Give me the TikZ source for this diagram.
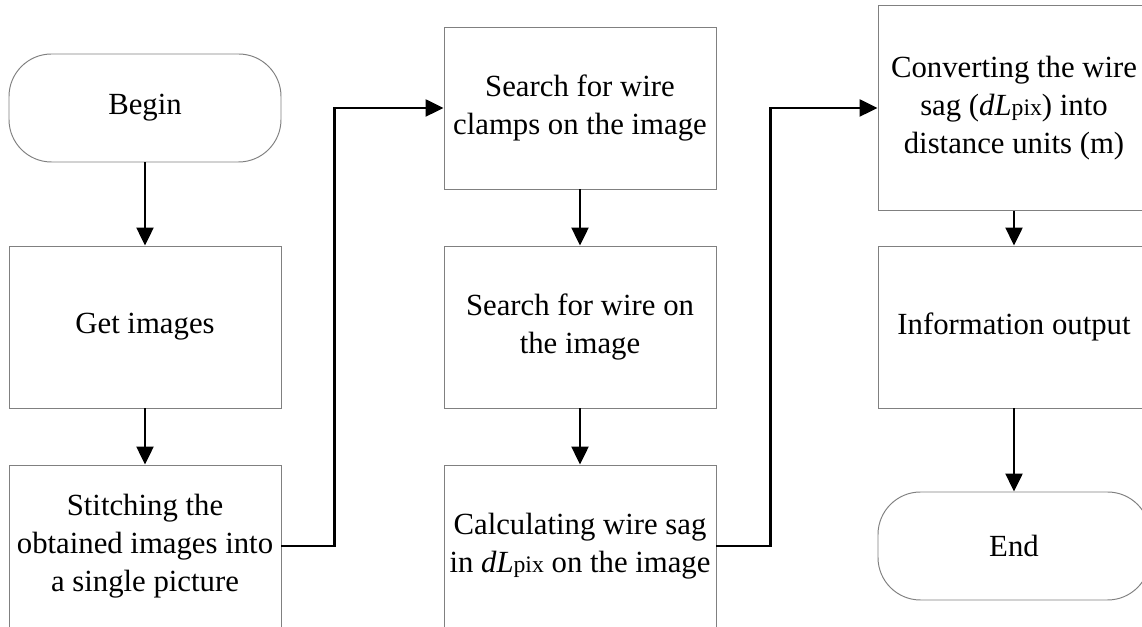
\documentclass[tikz,border=0pt]{standalone}
\usepackage{fontspec}
\setmainfont{Liberation Serif}
\usetikzlibrary{arrows.meta}
\begin{document}
\begin{tikzpicture}[
    block/.style={draw=black!50, line width=0.55pt, minimum width=5.44cm, minimum height=3.24cm,
      inner sep=0pt, align=center, font=\fontsize{17.5}{21.5}\selectfont},
    term/.style={block, rounded corners=0.85cm, minimum height=2.16cm},
    flow/.style={line width=1.4pt, -{Triangle[length=0.36cm, width=0.34cm]}}]
    \useasboundingbox (0, 0) rectangle (22.84, 12.54);
    \clip (0, 0) rectangle (22.84, 12.54);
    \node[term] (begin) at (2.9, 10.38) {Begin};
    \node[block] (getimg) at (2.9, 6) {Get images};
    \node[block] (stitch) at (2.9, 1.62) {Stitching the\\obtained images into\\a single picture};
    \node[block] (clamps) at (11.6, 10.38) {Search for wire\\clamps on the image};
    \node[block] (wire) at (11.6, 6) {Search for wire on\\the image};
    \node[block] (calc) at (11.6, 1.62)
      {Calculating wire sag\\in \textit{dL}{\fontsize{13.5}{15}\selectfont pix} on the image};
    \node[block, minimum height=4.1cm] (convert) at (20.28, 10.38)
      {Converting the wire\\sag (\textit{dL}{\fontsize{13.5}{15}\selectfont pix}) into\\distance units (m)};
    \node[block] (output) at (20.28, 6) {Information output};
    \node[term] (finish) at (20.28, 1.62) {End};
    \draw[flow] (begin) -- (getimg);
    \draw[flow] (getimg) -- (stitch);
    \draw[flow] (stitch.east) -- ++(1.06, 0) |- (clamps.west);
    \draw[flow] (clamps) -- (wire);
    \draw[flow] (wire) -- (calc);
    \draw[flow] (calc.east) -- ++(1.08, 0) |- (convert.west);
    \draw[flow] (convert) -- (output);
    \draw[flow] (output) -- (finish);
\end{tikzpicture}
\end{document}
